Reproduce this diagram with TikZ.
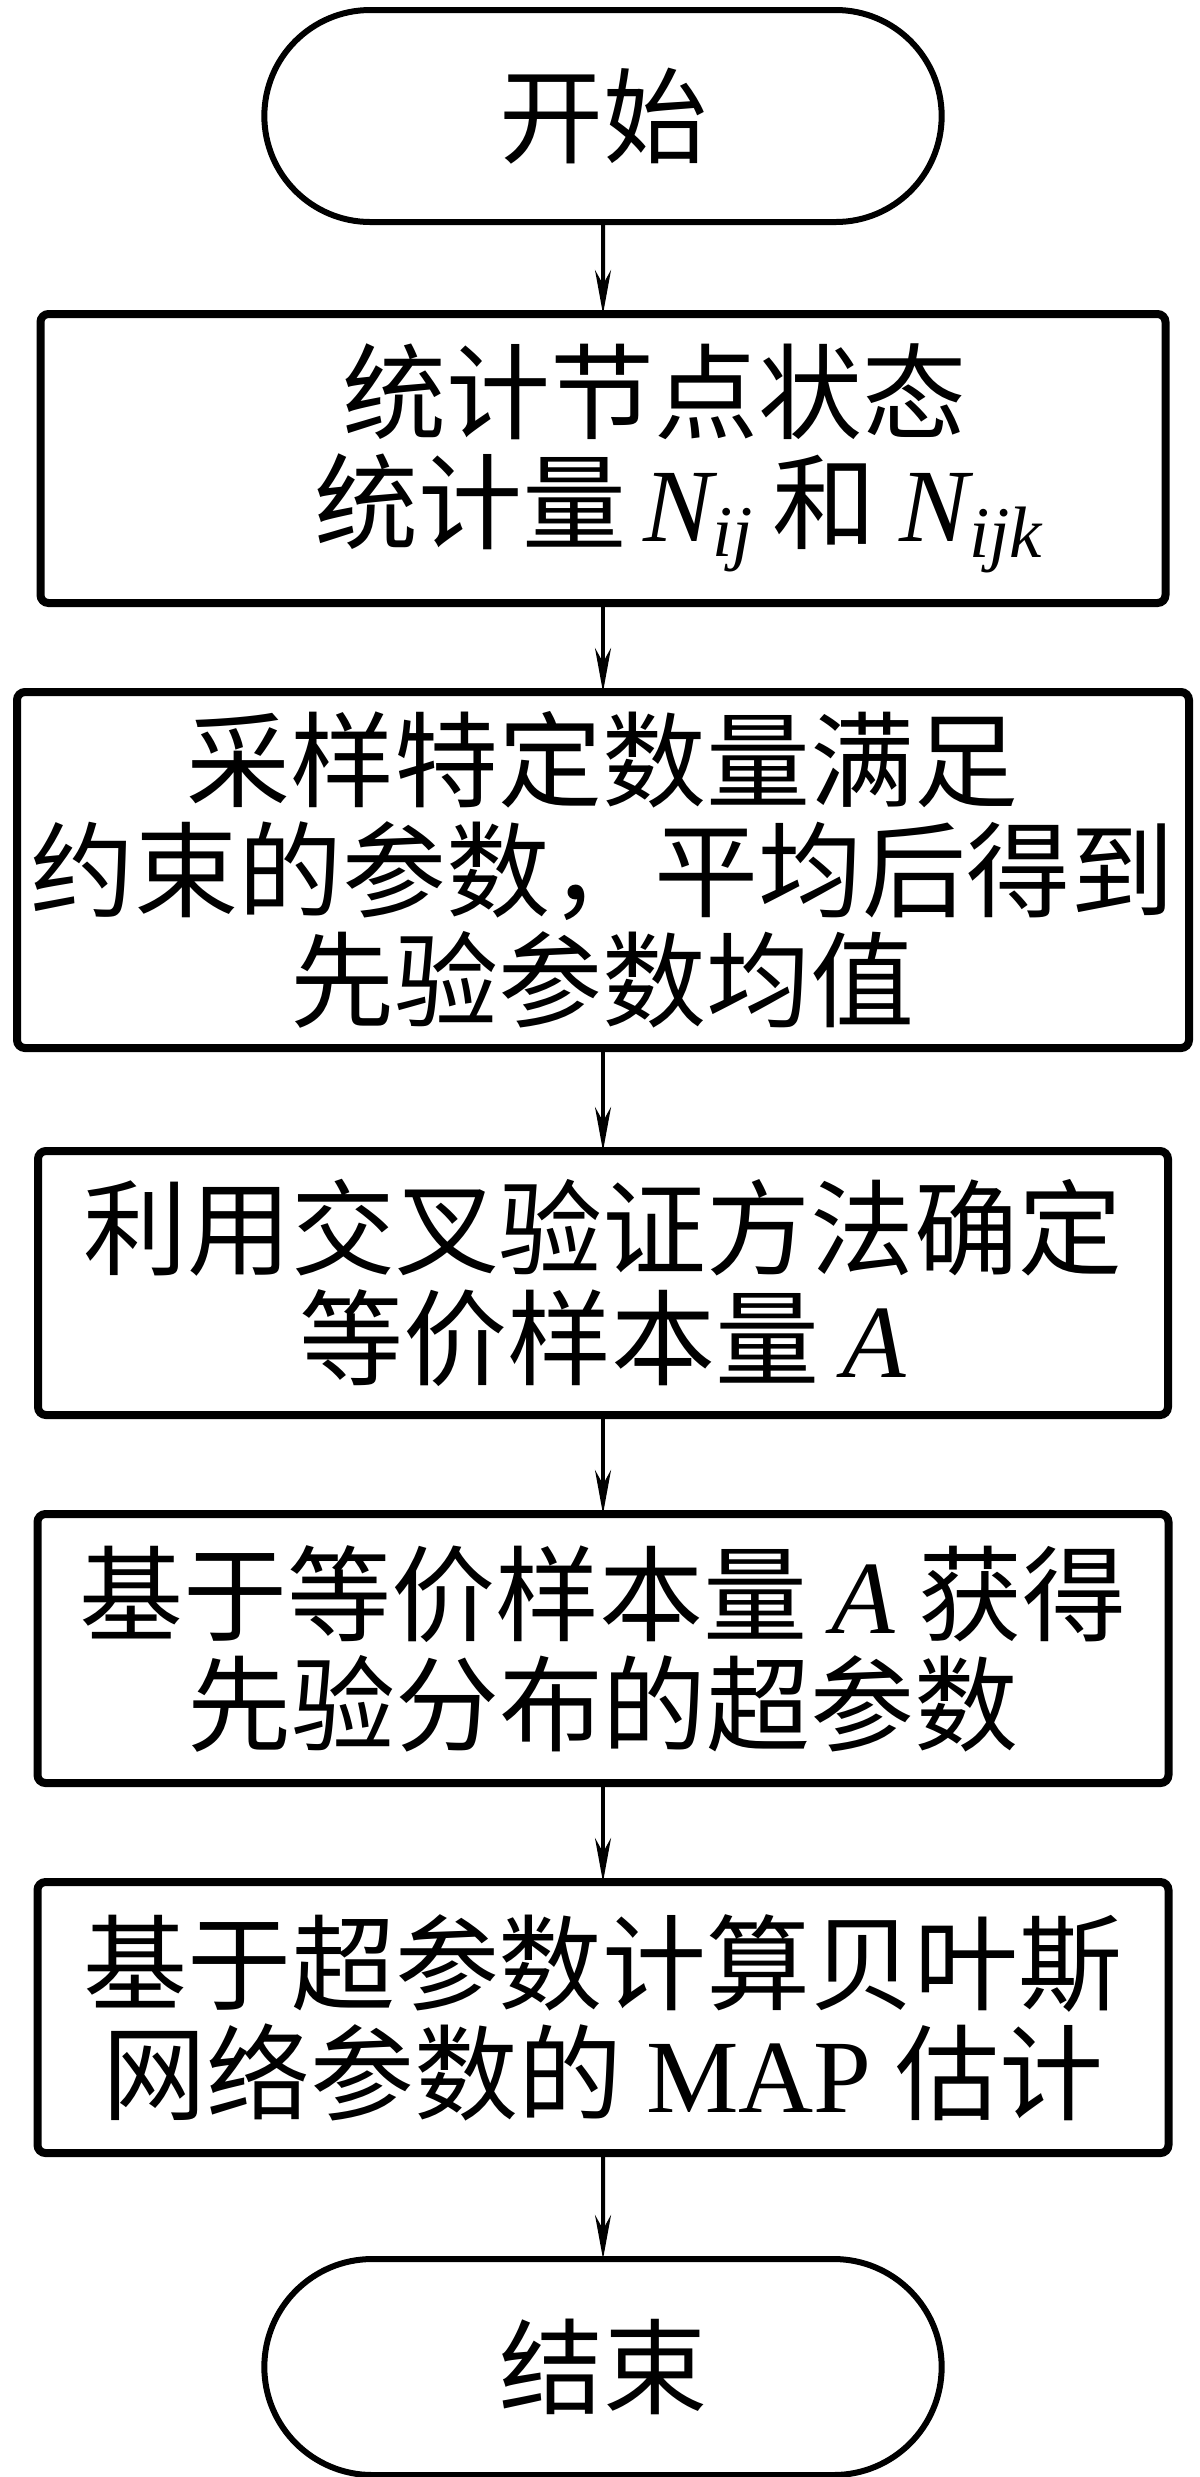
\documentclass[tikz,border=0pt]{standalone}
\usepackage{fontspec}
\setmainfont{Liberation Serif}
\newfontfamily\cjk{Noto Sans CJK SC}
\usetikzlibrary{positioning, arrows.meta, shapes.misc}
\newcommand{\vsym}[1]{{\rmfamily\itshape #1}}

\begin{document}
\begin{tikzpicture}[x=0.25pt, y=-0.25pt, font=\cjk\fontsize{26}{27.5}\selectfont,
		term/.style={rounded rectangle, draw, line width=1.5pt, outer sep=0pt, minimum width=176pt, minimum height=53pt},
		proc/.style={rectangle, draw, line width=2pt, rounded corners=2pt, outer sep=0pt, inner sep=0pt, align=center},
		flow/.style={{Stealth[length=11pt, width=4pt]}-, line width=1pt}]
		\useasboundingbox (0,0) rectangle (1200,2477);
		\node[term] (S) at (603,116) {开始};
		\node[proc, minimum width=281.25pt, minimum height=72.25pt] (P1) [below=23pt of S] {\hspace*{26pt}统计节点状态\\\hspace*{38pt}统计量\,\vsym{N}\textsubscript{\vsym{ij}}\,和 \vsym{N}\textsubscript{\vsym{ijk}}} edge[flow] (S);
		\node[proc, minimum width=293pt, minimum height=89pt] (P2) [below=22.25pt of P1] {采样特定数量满足\\约束的参数，平均后得到\\先验参数均值} edge[flow] (P1);
		\node[proc, minimum width=282.5pt, minimum height=66pt] (P3) [below=25.75pt of P2] {利用交叉验证方法确定\\等价样本量 \vsym{A}} edge[flow] (P2);
		\node[proc, minimum width=282.75pt, minimum height=67.25pt] (P4) [below=24.75pt of P3] {基于等价样本量 \vsym{A} 获得\\先验分布的超参数} edge[flow] (P3);
		\node[proc, minimum width=282.75pt, minimum height=67.75pt] (P5) [below=24.75pt of P4] {基于超参数计算贝叶斯\\网络参数的 {\rmfamily MAP} 估计} edge[flow] (P4);
		\node[term, minimum height=54pt] (E) [below=26.5pt of P5] {结束} edge[flow] (P5);
	\end{tikzpicture}
\end{document}
